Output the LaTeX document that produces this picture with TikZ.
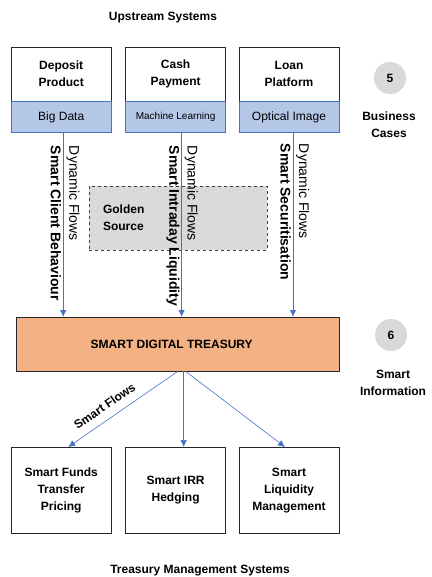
\documentclass[tikz,border=0pt]{standalone}
\usepackage{fontspec}
\setmainfont{Liberation Sans}
\usetikzlibrary{arrows.meta,positioning}
\definecolor{flowblue}{HTML}{4472C4}
\definecolor{techblue}{HTML}{B4C7E7}
\definecolor{treasuryorange}{HTML}{F4B183}
\definecolor{stagegray}{HTML}{D9D9D9}
\tikzset{every picture/.style={
  >={Latex[length=7pt,width=6.5pt]}   % filled arrow heads.
  }
}

\begin{document}
\begin{tikzpicture}[x=1pt,y=-1pt,
        system/.style={
          rectangle,
          draw=black!85,
          fill=white,
          minimum width=100pt,
          minimum height=54pt,
          align=center,
          font=\fontsize{12}{17}\selectfont\bfseries,
        },
        tech/.style={
          rectangle,
          draw=flowblue,
          fill=techblue,
          minimum width=100pt,
          minimum height=31pt,
          font=\fontsize{12}{14}\selectfont,
        },
        module/.style={
          rectangle,
          draw=black!85,
          minimum width=100pt,
          minimum height=86pt,
          align=center,
          font=\fontsize{12}{17}\selectfont\bfseries,
        },
        golden/.style={
          rectangle,
          draw=black!75,
          dashed,
          fill=stagegray,
          minimum height=64pt,
          text width=150pt,
          inner xsep=14pt,
          align=left,
          font=\fontsize{12}{17}\selectfont\bfseries,
        },
        stage/.style={circle, fill=stagegray, minimum size=32pt, inner sep=0pt,
          font=\fontsize{12}{14}\selectfont\bfseries},
        caption/.style={align=center, font=\fontsize{12}{17}\selectfont\bfseries},
        flow/.style={draw=flowblue, ->, line width=0.8pt},
        branch/.style={draw=flowblue, ->, line width=0.6pt},
        flowtext/.style={rotate=-90, inner sep=1pt, font=\fontsize{14}{16}\selectfont},
      ]
      \useasboundingbox (0,0) rectangle (431,577);

      % upstream systems
      \node[caption] (upstream) at (163,18) {Upstream Systems};
      \node[system,anchor=north west] (deposit) at (11,47) {Deposit\\Product};
      \node[tech] (bigdata) [below=0pt of deposit] {Big Data};
      \node[system] (cash) [right=14pt of deposit] {Cash\\Payment};
      \node[tech,font=\fontsize{10}{12}\selectfont] (ml) [below=0pt of cash] {Machine Learning};
      \node[system] (loan) [right=13pt of cash] {Loan\\Platform};
      \node[tech] (ocr) [below=0pt of loan] {Optical Image};

      \node[golden] (golden) at (178,218) {Golden\\Source};

      \node[rectangle,draw=black!85,fill=treasuryorange,minimum width=323pt,minimum height=54pt,
        font=\fontsize{12}{14}\selectfont\bfseries,anchor=north west] (treasury) at (16,317)
        {SMART DIGITAL TREASURY\hspace*{12pt}};

      % dynamic flows
      \coordinate (in1) at ([xshift=2pt]bigdata.south);
      \coordinate (in2) at ([xshift=6pt]ml.south);
      \coordinate (in3) at ([xshift=4pt]ocr.south);
      \draw[flow] (in1) -- (in1 |- treasury.north);
      \draw[flow] (in2) -- (in2 |- treasury.north);
      \draw[flow] (in3) -- (in3 |- treasury.north);
      \node[flowtext,anchor=south west] (dyn1) at ([xshift=2pt,yshift=-12pt]in1) {Dynamic Flows};
      \node[flowtext,anchor=north west,font=\fontsize{14}{16}\selectfont\bfseries] (client)
        at ([xshift=-1pt,yshift=-12pt]in1) {Smart Client Behaviour};
      \node[flowtext,anchor=south west] (dyn2) at ([xshift=2pt,yshift=-12pt]in2) {Dynamic Flows};
      \node[flowtext,anchor=north west,font=\fontsize{14}{16}\selectfont\bfseries] (intraday)
        at ([xshift=-1pt,yshift=-12pt]in2) {Smart Intraday Liquidity};
      \node[flowtext,anchor=south west] (dyn3) at ([xshift=2pt,yshift=-10pt]in3) {Dynamic Flows};
      \node[flowtext,anchor=north west,font=\fontsize{14}{16}\selectfont\bfseries] (securit)
        at ([xshift=-1pt,yshift=-10pt]in3) {Smart Securitisation};

      % treasury management systems
      \node[module,anchor=north west] (ftp) at (11,447) {Smart Funds\\Transfer\\Pricing};
      \node[module] (irr) [right=14pt of ftp] {Smart IRR\\Hedging};
      \node[module] (liq) [right=13pt of irr] {Smart\\Liquidity\\Management};
      \coordinate (out2) at ([xshift=6pt]treasury.south);
      \draw[branch] (treasury.south) -- ([xshift=7pt]ftp.north)
        node[pos=0.6,sloped,above=5pt,font=\fontsize{12}{14}\selectfont\bfseries] (smartflows) {Smart Flows};
      \draw[branch] (out2) -- (out2 |- irr.north);
      \draw[branch] ([xshift=8pt]treasury.south) -- ([xshift=-4pt]liq.north);
      \node[caption] (tms) at (200,571) {Treasury Management Systems};

      % stages
      \node[stage] (five) at (390,78) {5};
      \node[caption] (cases) at (389,125) {Business\\Cases};
      \node[stage] (six) at (391,335) {6};
      \node[caption] (info) at (393,383) {Smart\\Information};
\end{tikzpicture}
\end{document}
